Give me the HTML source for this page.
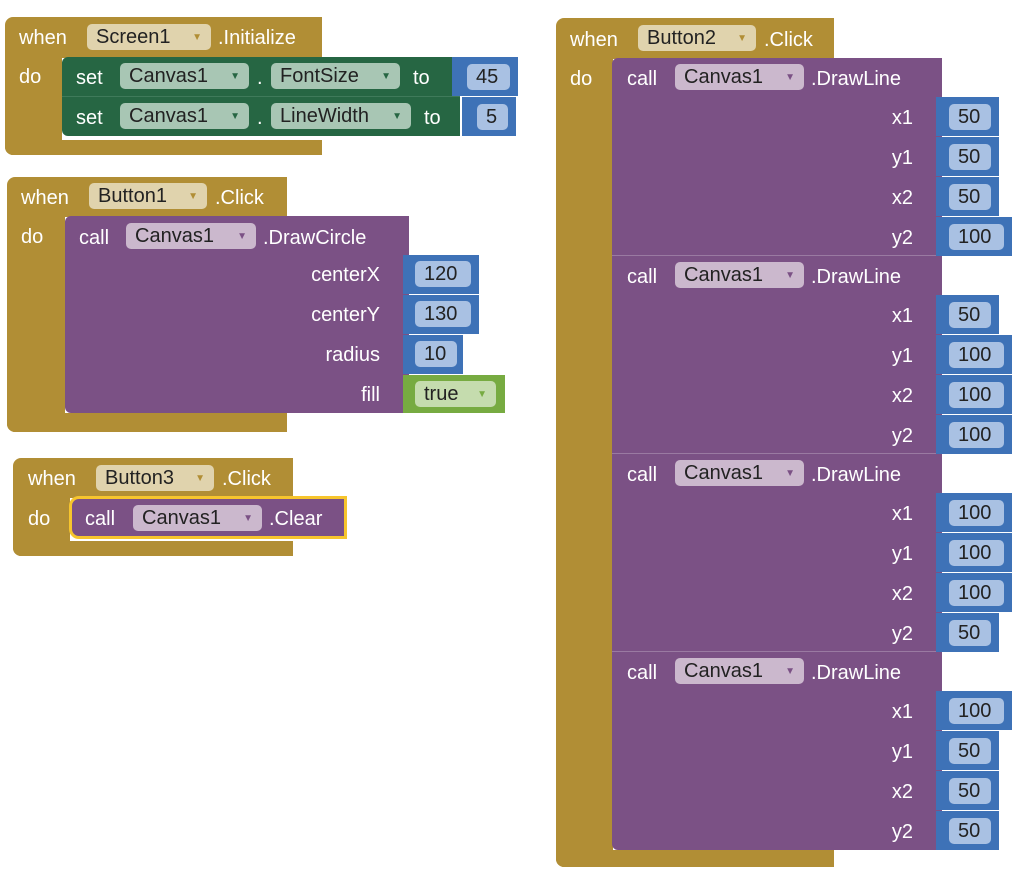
<!DOCTYPE html>
<html><head><meta charset="utf-8"><style>
body{margin:0;width:1024px;height:883px;background:#fff;position:relative;overflow:hidden;font-family:"Liberation Sans",sans-serif;font-size:20px;color:#fff}
div,span{position:absolute;box-sizing:border-box}
.g{background:#b18e35}
.p{background:#7b5185}
.s{background:#266643}
.bl{background:#3e72b7}
.lg{background:#77ab41}
.t{white-space:nowrap;line-height:22px;margin-top:2px}
.f{border-radius:5px;color:#222;padding-left:9px;line-height:27px;height:26px;white-space:nowrap}
.f i{font-style:normal;font-size:10px;position:absolute;right:9px;top:0}
.ft{background:#e0d3ad}.ft i{color:#b18e35}
.fp{background:#cbb8cd}.fp i{color:#7b5185}
.fs{background:#a8c6b4}.fs i{color:#266643}
.fb{background:#a9c1e3}
.fg{background:#c5dcae}.fg i{color:#77ab41}
.r{text-align:right}
</style></head><body>

<!-- Block 1 -->
<div class="g" style="left:5px;top:17px;width:317px;height:41px;border-radius:8px 0 0 0"></div>
<div class="g" style="left:5px;top:57px;width:57px;height:98px;border-radius:0 0 0 8px"></div>
<div class="g" style="left:5px;top:140px;width:317px;height:15px;border-radius:0 0 0 8px"></div>
<span class="t" style="left:19px;top:25px">when</span>
<span class="f ft" style="left:87px;top:24px;width:124px">Screen1<i>▼</i></span>
<span class="t" style="left:218px;top:25px">.Initialize</span>
<span class="t" style="left:19px;top:64px">do</span>
<div class="s" style="left:62px;top:57px;width:390px;height:40px;border-radius:6px 0 0 0"></div>
<div class="s" style="left:62px;top:96px;width:398px;height:40px;border-top:1px solid #3f7a5a;border-radius:0 0 0 6px"></div>
<span class="t" style="left:76px;top:65px">set</span>
<span class="f fs" style="left:120px;top:63px;width:129px">Canvas1<i>▼</i></span>
<span class="t" style="left:257px;top:65px">.</span>
<span class="f fs" style="left:271px;top:63px;width:129px">FontSize<i>▼</i></span>
<span class="t" style="left:413px;top:65px">to</span>
<span class="t" style="left:76px;top:105px">set</span>
<span class="f fs" style="left:120px;top:103px;width:129px">Canvas1<i>▼</i></span>
<span class="t" style="left:257px;top:105px">.</span>
<span class="f fs" style="left:271px;top:103px;width:140px">LineWidth<i>▼</i></span>
<span class="t" style="left:424px;top:105px">to</span>
<div class="bl" style="left:452px;top:57px;width:66px;height:39px"></div>
<span class="f fb" style="left:467px;top:64px;width:43px">45</span>
<div class="bl" style="left:462px;top:97px;width:54px;height:39px"></div>
<span class="f fb" style="left:477px;top:104px;width:31px">5</span>

<!-- Block 2 -->
<div class="g" style="left:7px;top:177px;width:280px;height:40px;border-radius:8px 0 0 0"></div>
<div class="g" style="left:7px;top:216px;width:58px;height:216px;border-radius:0 0 0 8px"></div>
<div class="g" style="left:7px;top:413px;width:280px;height:19px;border-radius:0 0 0 8px"></div>
<span class="t" style="left:21px;top:185px">when</span>
<span class="f ft" style="left:89px;top:183px;width:118px">Button1<i>▼</i></span>
<span class="t" style="left:215px;top:185px">.Click</span>
<span class="t" style="left:21px;top:224px">do</span>
<div class="p" style="left:65px;top:216px;width:344px;height:197px;border-radius:6px 0 0 6px"></div>
<span class="t" style="left:79px;top:225px">call</span>
<span class="f fp" style="left:126px;top:223px;width:130px">Canvas1<i>▼</i></span>
<span class="t" style="left:263px;top:225px">.DrawCircle</span>
<span class="t r" style="left:250px;top:262px;width:130px">centerX</span>
<span class="t r" style="left:250px;top:302px;width:130px">centerY</span>
<span class="t r" style="left:250px;top:342px;width:130px">radius</span>
<span class="t r" style="left:250px;top:382px;width:130px">fill</span>
<div class="bl" style="left:403px;top:255px;width:76px;height:39px"></div>
<span class="f fb" style="left:415px;top:261px;width:56px">120</span>
<div class="bl" style="left:403px;top:295px;width:76px;height:39px"></div>
<span class="f fb" style="left:415px;top:301px;width:56px">130</span>
<div class="bl" style="left:403px;top:335px;width:60px;height:39px"></div>
<span class="f fb" style="left:415px;top:341px;width:42px">10</span>
<div class="lg" style="left:403px;top:375px;width:102px;height:38px"></div>
<span class="f fg" style="left:415px;top:381px;width:81px">true<i>▼</i></span>

<!-- Block 3 -->
<div class="g" style="left:13px;top:458px;width:280px;height:40px;border-radius:8px 0 0 0"></div>
<div class="g" style="left:13px;top:497px;width:57px;height:59px;border-radius:0 0 0 8px"></div>
<div class="g" style="left:13px;top:541px;width:280px;height:15px;border-radius:0 0 0 8px"></div>
<span class="t" style="left:28px;top:466px">when</span>
<span class="f ft" style="left:96px;top:465px;width:118px">Button3<i>▼</i></span>
<span class="t" style="left:222px;top:466px">.Click</span>
<span class="t" style="left:28px;top:506px">do</span>
<div class="p" style="left:69px;top:496px;width:278px;height:43px;border:3px solid #f7c52d;border-radius:10px 0 0 10px"></div>
<span class="t" style="left:85px;top:506px">call</span>
<span class="f fp" style="left:133px;top:505px;width:129px">Canvas1<i>▼</i></span>
<span class="t" style="left:269px;top:506px">.Clear</span>

<!-- Block 4 -->
<div class="g" style="left:556px;top:18px;width:278px;height:41px;border-radius:8px 0 0 0"></div>
<div class="g" style="left:556px;top:58px;width:57px;height:809px;border-radius:0 0 0 8px"></div>
<div class="g" style="left:556px;top:850px;width:278px;height:17px;border-radius:0 0 0 8px"></div>
<span class="t" style="left:570px;top:27px">when</span>
<span class="f ft" style="left:638px;top:25px;width:118px">Button2<i>▼</i></span>
<span class="t" style="left:764px;top:27px">.Click</span>
<span class="t" style="left:570px;top:66px">do</span>

<div class="p" style="left:612px;top:58px;width:330px;height:792px;border-radius:6px 0 0 6px"></div>
<div style="left:612px;top:255px;width:330px;height:1px;background:#9a7aa2"></div>
<div style="left:612px;top:453px;width:330px;height:1px;background:#9a7aa2"></div>
<div style="left:612px;top:651px;width:330px;height:1px;background:#9a7aa2"></div>

<span class="t" style="left:627px;top:66px">call</span>
<span class="f fp" style="left:675px;top:64px;width:129px">Canvas1<i>▼</i></span>
<span class="t" style="left:811px;top:66px">.DrawLine</span>
<span class="t r" style="left:850px;top:105px;width:63px">x1</span>
<span class="t r" style="left:850px;top:145px;width:63px">y1</span>
<span class="t r" style="left:850px;top:185px;width:63px">x2</span>
<span class="t r" style="left:850px;top:225px;width:63px">y2</span>
<div class="bl" style="left:936px;top:97px;width:63px;height:39px"></div><span class="f fb" style="left:949px;top:104px;width:42px">50</span>
<div class="bl" style="left:936px;top:137px;width:63px;height:39px"></div><span class="f fb" style="left:949px;top:144px;width:42px">50</span>
<div class="bl" style="left:936px;top:177px;width:63px;height:39px"></div><span class="f fb" style="left:949px;top:184px;width:42px">50</span>
<div class="bl" style="left:936px;top:217px;width:76px;height:39px"></div><span class="f fb" style="left:949px;top:224px;width:55px">100</span>

<span class="t" style="left:627px;top:264px">call</span>
<span class="f fp" style="left:675px;top:262px;width:129px">Canvas1<i>▼</i></span>
<span class="t" style="left:811px;top:264px">.DrawLine</span>
<span class="t r" style="left:850px;top:303px;width:63px">x1</span>
<span class="t r" style="left:850px;top:343px;width:63px">y1</span>
<span class="t r" style="left:850px;top:383px;width:63px">x2</span>
<span class="t r" style="left:850px;top:423px;width:63px">y2</span>
<div class="bl" style="left:936px;top:295px;width:63px;height:39px"></div><span class="f fb" style="left:949px;top:302px;width:42px">50</span>
<div class="bl" style="left:936px;top:335px;width:76px;height:39px"></div><span class="f fb" style="left:949px;top:342px;width:55px">100</span>
<div class="bl" style="left:936px;top:375px;width:76px;height:39px"></div><span class="f fb" style="left:949px;top:382px;width:55px">100</span>
<div class="bl" style="left:936px;top:415px;width:76px;height:39px"></div><span class="f fb" style="left:949px;top:422px;width:55px">100</span>

<span class="t" style="left:627px;top:462px">call</span>
<span class="f fp" style="left:675px;top:460px;width:129px">Canvas1<i>▼</i></span>
<span class="t" style="left:811px;top:462px">.DrawLine</span>
<span class="t r" style="left:850px;top:501px;width:63px">x1</span>
<span class="t r" style="left:850px;top:541px;width:63px">y1</span>
<span class="t r" style="left:850px;top:581px;width:63px">x2</span>
<span class="t r" style="left:850px;top:621px;width:63px">y2</span>
<div class="bl" style="left:936px;top:493px;width:76px;height:39px"></div><span class="f fb" style="left:949px;top:500px;width:55px">100</span>
<div class="bl" style="left:936px;top:533px;width:76px;height:39px"></div><span class="f fb" style="left:949px;top:540px;width:55px">100</span>
<div class="bl" style="left:936px;top:573px;width:76px;height:39px"></div><span class="f fb" style="left:949px;top:580px;width:55px">100</span>
<div class="bl" style="left:936px;top:613px;width:63px;height:39px"></div><span class="f fb" style="left:949px;top:620px;width:42px">50</span>

<span class="t" style="left:627px;top:660px">call</span>
<span class="f fp" style="left:675px;top:658px;width:129px">Canvas1<i>▼</i></span>
<span class="t" style="left:811px;top:660px">.DrawLine</span>
<span class="t r" style="left:850px;top:699px;width:63px">x1</span>
<span class="t r" style="left:850px;top:739px;width:63px">y1</span>
<span class="t r" style="left:850px;top:779px;width:63px">x2</span>
<span class="t r" style="left:850px;top:819px;width:63px">y2</span>
<div class="bl" style="left:936px;top:691px;width:76px;height:39px"></div><span class="f fb" style="left:949px;top:698px;width:55px">100</span>
<div class="bl" style="left:936px;top:731px;width:63px;height:39px"></div><span class="f fb" style="left:949px;top:738px;width:42px">50</span>
<div class="bl" style="left:936px;top:771px;width:63px;height:39px"></div><span class="f fb" style="left:949px;top:778px;width:42px">50</span>
<div class="bl" style="left:936px;top:811px;width:63px;height:39px"></div><span class="f fb" style="left:949px;top:818px;width:42px">50</span>

</body></html>
